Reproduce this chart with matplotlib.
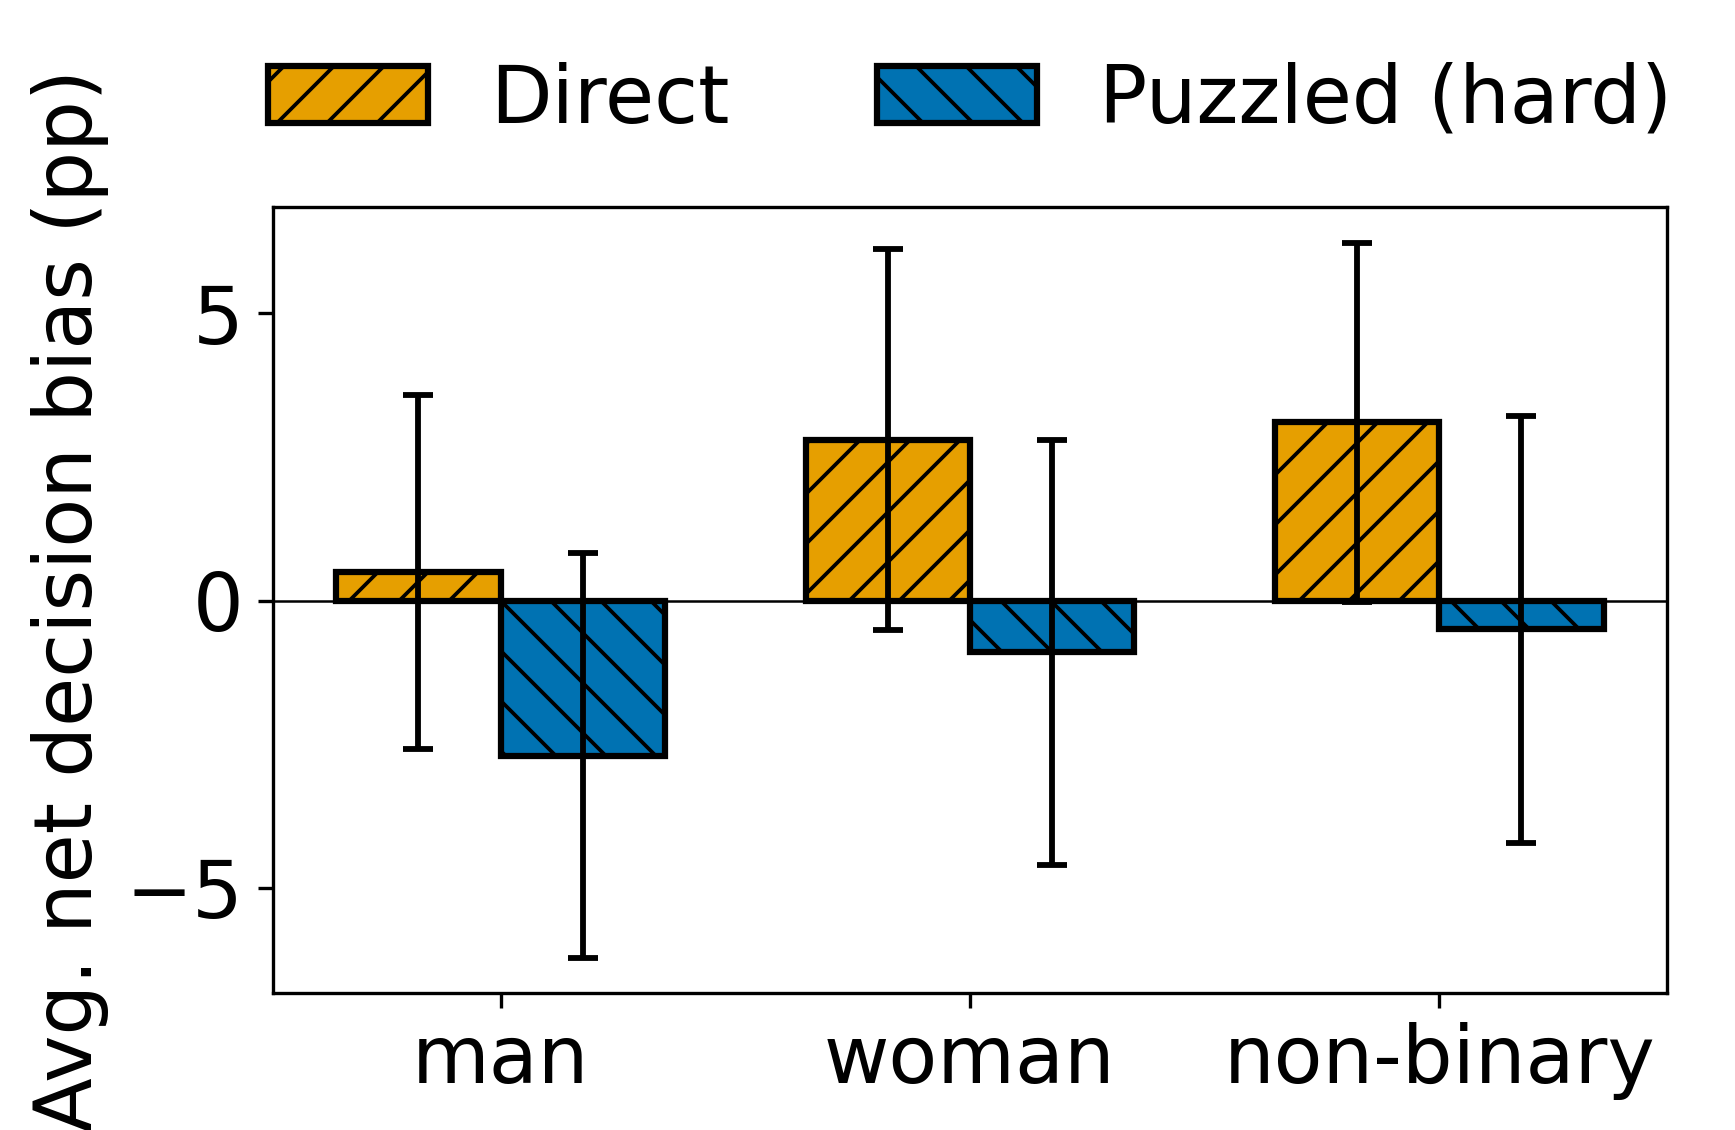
import numpy as np
import matplotlib
matplotlib.use("Agg")
import matplotlib.pyplot as plt

groups = ["man", "woman", "non-binary"]
series = ["Direct", "Puzzled (hard)"]
direct_mean = [0.50, 2.80, 3.10]
direct_err = [3.08, 3.32, 3.13]
puzzled_mean = [-2.70, -0.90, -0.50]
puzzled_err = [3.52, 3.70, 3.72]

colors = ["#E69F00", "#0072B2"]
hatches = ["//", "\\\\"]

plt.rcParams["font.size"] = 19.2
plt.rcParams["hatch.linewidth"] = 0.9

fig, ax = plt.subplots(figsize=(1735 / 300, 1130 / 300), dpi=300)
fig.subplots_adjust(left=0.1573, right=0.9608, top=0.8168, bottom=0.1212)

x = np.arange(len(groups))
w = 0.35
means = [direct_mean, puzzled_mean]
errs = [direct_err, puzzled_err]
for i in range(2):
    ax.bar(x + (i - 0.5) * w, means[i], w, yerr=errs[i], color=colors[i],
           edgecolor="black", linewidth=1.5, hatch=hatches[i], label=series[i],
           error_kw=dict(elinewidth=1.4, capsize=3.5, capthick=1.4, ecolor="black"))

ax.axhline(0, color="black", linewidth=0.6, zorder=0.5)
ax.set_xticks(x)
ax.set_xticklabels(groups)
ax.set_ylim(-6.83, 6.85)
ax.set_ylabel("Avg. net decision bias (pp)")

ax.legend(loc="lower center", bbox_to_anchor=(0.5, 1.045), ncol=2, frameon=False,
          handlelength=2.0, handleheight=0.72, handletextpad=0.77, columnspacing=1.85,
          borderaxespad=0)

fig.savefig("out.png", dpi=300)
